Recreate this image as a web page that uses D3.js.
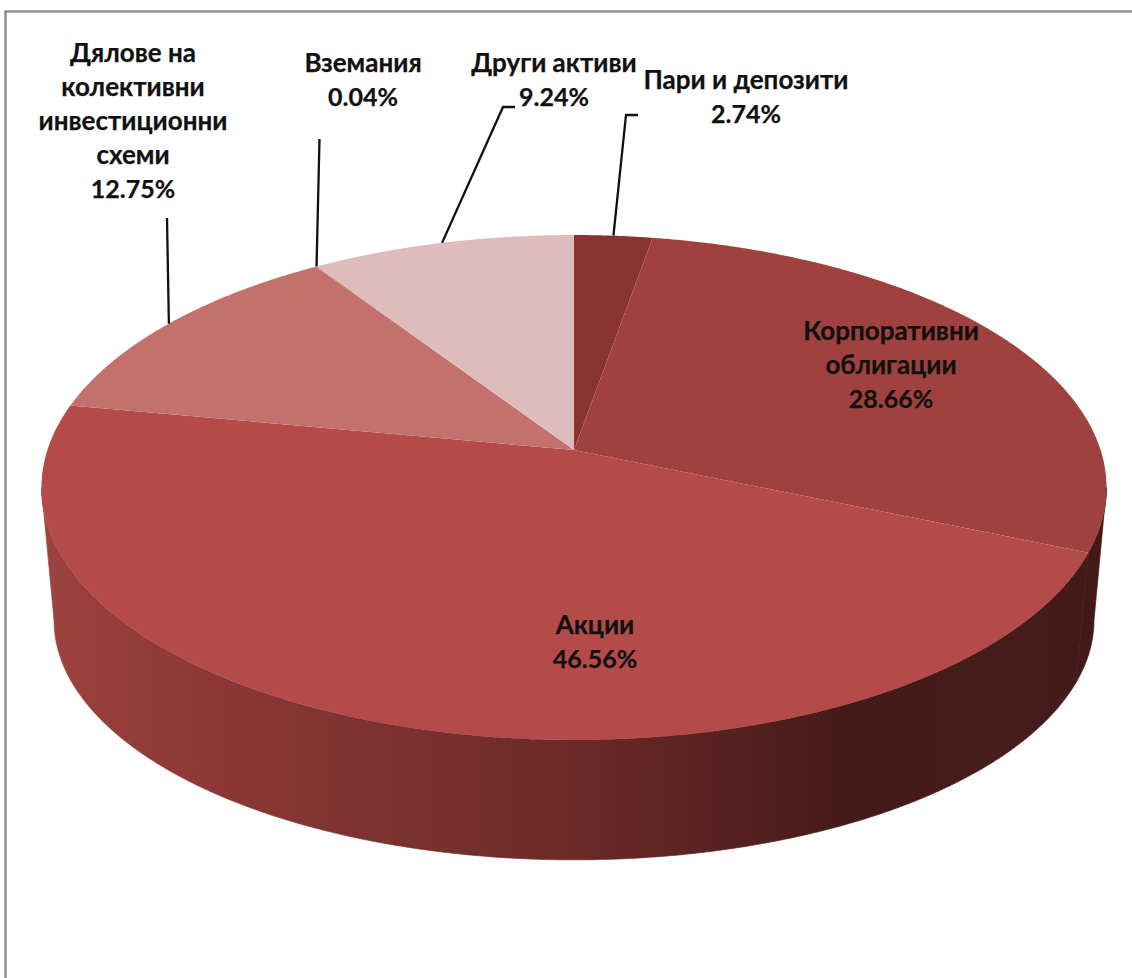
<!DOCTYPE html>
<html lang="bg">
<head>
<meta charset="utf-8">
<style>
html,body{margin:0;padding:0;background:#fff;overflow:hidden}
svg{display:block}
text{font-family:Lato,"Noto Sans",sans-serif;font-weight:700;font-size:26px;fill:#111;stroke:#111;stroke-width:.25;text-anchor:middle}
tspan.val{font-size:25px}
</style>
<script src="https://cdn.jsdelivr.net/npm/d3@7/dist/d3.min.js"></script>
</head>
<body>
<svg id="chart" width="1132" height="978"></svg>
<script>
const categories = ["Пари и депозити","Корпоративни облигации","Акции","Дялове на колективни инвестиционни схеми","Вземания","Други активи"];
const values = [2.74,28.66,46.56,12.75,0.04,9.24];
const valueLabels = ["2.74%","28.66%","46.56%","12.75%","0.04%","9.24%"];
const labelLines = [["Пари и депозити"],["Корпоративни","облигации"],["Акции"],["Дялове на","колективни","инвестиционни","схеми"],["Вземания"],["Други активи"]];
const topColors = ["#893432","#9f413e","#b54b48","#c4706d","#c9918f","#dfbcbc"];

// layout
const W = 1132, H = 978;
const cx = 574, cy = 450;
const persp = 0.1485, scaleX = 526.6, scaleY = 246.9;
const floorX = 0.9765, floorY = 0.95, floorDrop = 134.4;
const labelAnchor = [[746,89],[891,340],[595,634],[133,62],[363,72],[554,72]];
const lineHeight = 34;
const leaderStart = [[[638,115],[626,115]],null,null,[[167,218]],[[319.5,139]],[[515,107],[503,107]]];
const wallX = [42,60,240,400,600,750,850,1000,1107];
const wallC = ["#9f4440","#9b413e","#8a3634","#7a322f","#682825","#54201e","#431a18","#471d1b","#431a18"];
const wallSideColor = "#421917";

const svg = d3.select("#chart");
const arcs = d3.pie().sort(null).value(d => d)(values);

function proj(a, floor) {
  const u = Math.sin(a), v = Math.cos(a), w = 1 + persp * v;
  const sx = floor ? floorX : 1, sy = floor ? floorY : 1, dy = floor ? floorDrop : 0;
  return [cx + sx * scaleX * u / w, cy + dy - sy * scaleY * v / w];
}
const line = d3.line();

// gradient for the front wall
const grad = svg.append("defs").append("linearGradient").attr("id","wall")
  .attr("gradientUnits","userSpaceOnUse")
  .attr("x1",wallX[0]).attr("x2",wallX[wallX.length-1]).attr("y1",0).attr("y2",0);
const pos = d3.scaleLinear().domain(d3.extent(wallX)).range([0,1]);
grad.selectAll("stop").data(wallX).join("stop")
  .attr("offset",d => pos(d)).attr("stop-color",(d,i) => wallC[i]);

// frame
svg.append("path").attr("d", line([[5.5,H],[5.5,11.5],[W,11.5]]))
  .attr("fill","none").attr("stroke","#8f8f8f").attr("stroke-width",2.5);

// side walls, one per visible slice
const tangent = Math.acos(-persp), lastAngle = 2 * Math.PI - tangent;
const visible = arcs.filter(d => d.endAngle > tangent && d.startAngle < lastAngle);
svg.append("g").selectAll("path").data(visible).join("path")
  .attr("d", d => {
    const a0 = Math.max(d.startAngle, tangent), a1 = Math.min(d.endAngle, lastAngle);
    const n = Math.max(2, Math.ceil((a1 - a0) / 0.005));
    const as = d3.range(n + 1).map(i => a0 + (a1 - a0) * i / n);
    return line([...as.map(a => proj(a,false)), ...as.slice().reverse().map(a => proj(a,true))]) + "Z";
  })
  .attr("fill", d => d.index === 1 ? wallSideColor : "url(#wall)")
  .attr("stroke", d => d.index === 1 ? wallSideColor : "url(#wall)")
  .attr("stroke-width", 0.7);

// top slices
svg.append("g").selectAll("path").data(arcs).join("path")
  .attr("d", d => {
    const n = Math.max(2, Math.ceil((d.endAngle - d.startAngle) / 0.005));
    const pts = d3.range(n + 1).map(i => proj(d.startAngle + (d.endAngle - d.startAngle) * i / n, false));
    return line([[cx,cy], ...pts]) + "Z";
  })
  .attr("fill", (d,i) => topColors[i]);

// leader lines
svg.append("g").selectAll("path").data(arcs.filter((d,i) => leaderStart[i]))
  .join("path")
  .attr("d", d => line([...leaderStart[d.index], proj((d.startAngle + d.endAngle) / 2, false)]))
  .attr("fill","none").attr("stroke","#111").attr("stroke-width",2.3);

// labels
const lab = svg.append("g").selectAll("text").data(categories).join("text")
  .attr("x",(d,i) => labelAnchor[i][0]).attr("y",(d,i) => labelAnchor[i][1]);
lab.selectAll("tspan").data((d,i) => [...labelLines[i].map(t => ({t,val:false})), {t:valueLabels[i],val:true}].map(o => ({...o,x:labelAnchor[i][0]})))
  .join("tspan").attr("class",d => d.val ? "val" : null)
  .attr("x",d => d.x).attr("dy",(d,j) => j ? lineHeight : 0).text(d => d.t);
</script>
</body>
</html>
